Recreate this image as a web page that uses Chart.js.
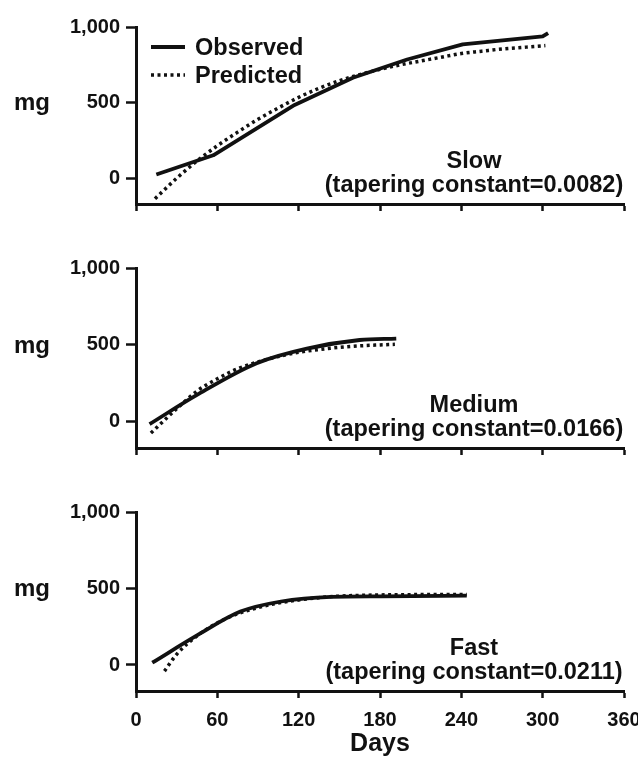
<!DOCTYPE html>
<html>
<head>
<meta charset="utf-8">
<script src="https://cdn.jsdelivr.net/npm/chart.js@4.4.1/dist/chart.umd.min.js"></script>
<style>
  body { margin: 0; background: #fff; width: 638px; height: 757px; overflow: hidden; position: relative; }
  .panel { position: absolute; left: 0; width: 638px; }
</style>
</head>
<body>
<div class="panel" style="top:0px"><canvas id="slow-chart" width="638" height="240"></canvas></div>
<div class="panel" style="top:240px"><canvas id="medium-chart" width="638" height="244"></canvas></div>
<div class="panel" style="top:484px"><canvas id="fast-chart" width="638" height="273"></canvas></div>
<script>
// data (days, mg)
var slowObsDays = [15, 57, 117, 160, 200, 241, 300, 304];
var slowObsMg   = [25, 152, 485, 665, 785, 885, 938, 960];
var slowPredDays = [14, 30, 45, 60, 75, 90, 105, 120, 135, 150, 165, 180, 195, 210, 225, 240, 255, 270, 285, 302];
var slowPredMg   = [-135, 0, 115, 215, 305, 390, 465, 535, 595, 645, 685, 720, 750, 775, 800, 825, 840, 855, 865, 877];

var medObsDays = [10, 45, 89, 126, 165, 192];
var medObsMg   = [-15, 175, 381, 476, 532, 541];
var medPredDays = [11, 30, 45, 60, 75, 90, 105, 120, 135, 150, 165, 180, 191];
var medPredMg   = [-73, 85, 200, 280, 345, 390, 425, 452, 470, 484, 494, 500, 504];

var fastObsDays = [12, 45, 77, 107, 144, 181, 244];
var fastObsMg   = [15, 193, 349, 415, 445, 449, 453];
var fastPredDays = [21, 30, 45, 60, 75, 90, 105, 120, 135, 150, 180, 210, 244];
var fastPredMg   = [-40, 70, 190, 275, 335, 375, 405, 425, 440, 450, 458, 460, 460];

var yTicks = [0, 500, 1000];
var xTicks = [0, 60, 120, 180, 240, 300, 360];
var seriesNames = ['Observed', 'Predicted'];

var INK = '#111';
var FONT = "'Liberation Sans', Arial, sans-serif";

function toPoints( days, mg ) {
  return days.map(function ( d, i ) { return { x: d, y: mg[i] }; });
}

// draws "mg", the panel caption and (top panel only) the legend
var panelText = {
  id: 'panelText',
  afterDraw: function ( chart, args, opts ) {
    var ctx = chart.ctx;
    var area = chart.chartArea;
    var y = chart.scales.y;
    ctx.save();
    ctx.fillStyle = INK;

    ctx.font = 'bold 24px ' + FONT;
    ctx.textAlign = 'center';
    ctx.textBaseline = 'middle';
    ctx.fillText( 'mg', 32, y.getPixelForValue(500) + 1 );

    ctx.font = 'bold 23.5px ' + FONT;
    ctx.textBaseline = 'alphabetic';
    var cx = area.left + 338;
    ctx.fillText( opts.name, cx, area.bottom - 36 );
    ctx.fillText( '(tapering constant=' + opts.constant + ')', cx, area.bottom - 12 );

    if (opts.legend) {
      ctx.textAlign = 'left';
      chart.data.datasets.forEach(function ( ds, i ) {
        var ly = area.top + 20 + i * 28;
        ctx.beginPath();
        ctx.strokeStyle = ds.borderColor;
        ctx.lineWidth = ds.borderWidth;
        ctx.setLineDash( ds.borderDash || [] );
        ctx.moveTo( area.left + 15, ly );
        ctx.lineTo( area.left + 49, ly );
        ctx.stroke();
        ctx.setLineDash([]);
        ctx.font = 'bold 23.5px ' + FONT;
        ctx.fillText( ds.label, area.left + 59, ly + 8 );
      });
    }
    ctx.restore();
  }
};

function makePanel( id, obsDays, obsMg, predDays, predMg, cfg ) {
  return new Chart(
    document.getElementById(id).getContext('2d'),
    {
      type: 'line',
      data: {
        datasets: [{
          label: seriesNames[0],
          data: toPoints( obsDays, obsMg ),
          borderColor: INK,
          borderWidth: 3.8,
          borderJoinStyle: 'round',
          cubicInterpolationMode: cfg.smoothObs ? 'monotone' : 'default',
          tension: 0,
          pointRadius: 0,
          fill: false,
          clip: false
        }, {
          label: seriesNames[1],
          data: toPoints( predDays, predMg ),
          borderColor: INK,
          borderWidth: 3.5,
          borderDash: [3, 3.5],
          cubicInterpolationMode: 'monotone',
          pointRadius: 0,
          fill: false,
          clip: false
        }]
      },
      options: {
        responsive: false,
        animation: false,
        events: [],
        layout: { padding: { top: cfg.top, right: 14, left: 0, bottom: 0 } },
        plugins: {
          legend: { display: false },
          tooltip: { enabled: false },
          panelText: { name: cfg.name, constant: cfg.constant, legend: cfg.legend }
        },
        scales: {
          x: {
            type: 'linear',
            min: 0,
            max: 360,
            afterBuildTicks: function ( s ) { s.ticks = xTicks.map(function ( v ) { return { value: v }; }); },
            afterFit: function ( s ) { s.height = cfg.xHeight; s.paddingLeft = 0; s.paddingRight = 0; },
            border: { display: true, color: INK, width: 3 },
            grid: { drawOnChartArea: false, drawTicks: true, tickLength: 7, tickWidth: 2.5, tickColor: INK, color: INK },
            ticks: {
              display: cfg.xLabels,
              color: INK,
              padding: 10,
              maxRotation: 0,
              font: { family: FONT, size: 20, weight: 'bold' }
            },
            title: {
              display: cfg.xLabels,
              text: 'Days',
              color: INK,
              padding: { top: 0, bottom: 0 },
              font: { family: FONT, size: 25, weight: 'bold', lineHeight: 1 }
            }
          },
          y: {
            min: -170,
            max: 1000,
            afterBuildTicks: function ( s ) { s.ticks = yTicks.map(function ( v ) { return { value: v }; }); },
            afterFit: function ( s ) { s.width = 136; },
            border: { display: true, color: INK, width: 3 },
            grid: { drawOnChartArea: false, drawTicks: true, tickLength: 10, tickWidth: 2.5, tickColor: INK, color: INK },
            ticks: {
              color: INK,
              padding: 6,
              font: { family: FONT, size: 20, weight: 'bold' },
              callback: function ( v ) { return v.toLocaleString('en-US'); }
            }
          }
        }
      },
      plugins: [panelText]
    }
  );
}

var slowChart = makePanel( 'slow-chart', slowObsDays, slowObsMg, slowPredDays, slowPredMg,
  { top: 27, xHeight: 36, xLabels: false, legend: true, smoothObs: false, name: 'Slow', constant: '0.0082' } );
var mediumChart = makePanel( 'medium-chart', medObsDays, medObsMg, medPredDays, medPredMg,
  { top: 28, xHeight: 36, xLabels: false, legend: false, smoothObs: true, name: 'Medium', constant: '0.0166' } );
var fastChart = makePanel( 'fast-chart', fastObsDays, fastObsMg, fastPredDays, fastPredMg,
  { top: 28, xHeight: 66, xLabels: true, legend: false, smoothObs: true, name: 'Fast', constant: '0.0211' } );
</script>
</body>
</html>
